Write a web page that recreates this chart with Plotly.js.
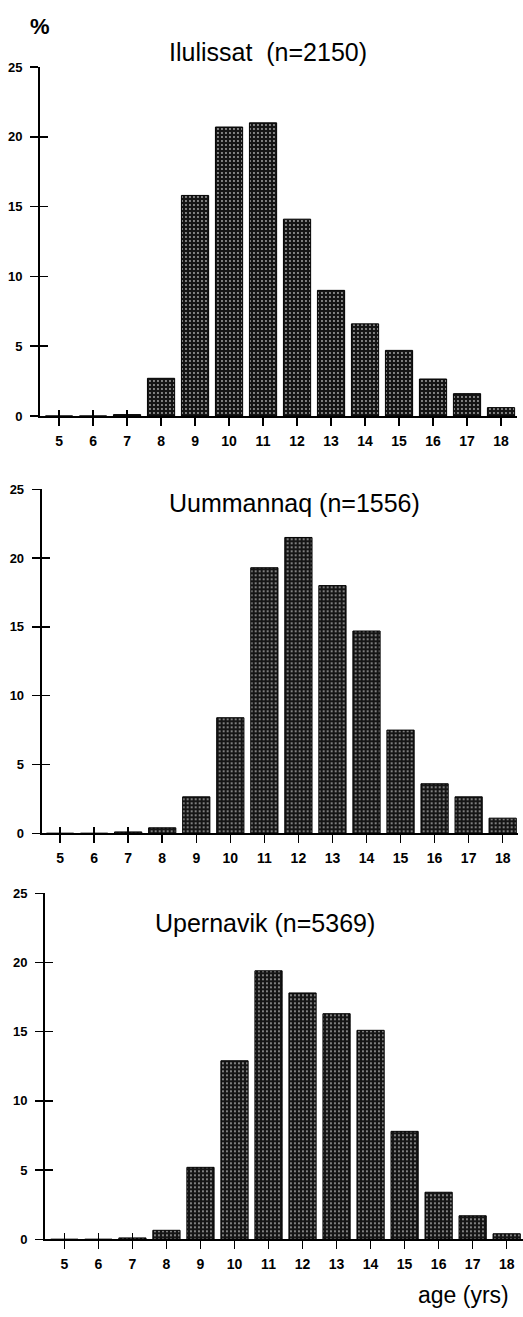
<!DOCTYPE html>
<html>
<head>
<meta charset="utf-8">
<script src="https://cdn.plot.ly/plotly-3.0.1.min.js"></script>
<style>
  html, body { margin: 0; padding: 0; background: #fff; }
  #chart { width: 523px; height: 1317px; }
</style>
</head>
<body>
<div id="chart"></div>
<script>
// ---- data ----
const ages = [5, 6, 7, 8, 9, 10, 11, 12, 13, 14, 15, 16, 17, 18];
const ilulissat = [0, 0, 0.1, 2.7, 15.8, 20.7, 21.0, 14.1, 9.0, 6.6, 4.7, 2.65, 1.6, 0.6];
const uummannaq = [0, 0, 0.1, 0.4, 2.65, 8.4, 19.3, 21.5, 18.0, 14.7, 7.5, 3.6, 2.65, 1.1];
const upernavik = [0, 0, 0.1, 0.65, 5.2, 12.9, 19.4, 17.8, 16.3, 15.1, 7.8, 3.4, 1.7, 0.4];
const panelTitles = ['Ilulissat\u00a0\u00a0(n=2150)', 'Uummannaq (n=1556)', 'Upernavik (n=5369)'];
const yTicks = [0, 5, 10, 15, 20, 25];
const crossTicks = [5, 6, 7];
const yUnit = '%';
const xLabel = 'age (yrs)';

const W = 523, H = 1317;
const FONT = 'Liberation Sans, Arial, Helvetica, sans-serif';

const series = [ilulissat, uummannaq, upernavik];
const axisSuffix = ['', '2', '3'];

const barStyle = {
  color: '#1a1a1a',
  line: { color: '#000', width: 1 },
  pattern: { shape: '.', bgcolor: '#151515', fgcolor: '#a8a8a8', size: 4, solidity: 0.18 }
};

const traces = series.map((vals, i) => ({
  type: 'bar',
  x: ages,
  y: vals,
  width: 0.8,
  xaxis: 'x' + axisSuffix[i],
  yaxis: 'y' + axisSuffix[i],
  marker: barStyle,
  hoverinfo: 'x+y',
  showlegend: false
}));
// empty traces hosting the inner halves of the crossing ticks
[0, 1, 2].forEach(i => {
  traces.push({ type: 'scatter', x: [], y: [], xaxis: 'x' + axisSuffix[i], yaxis: 'y' + (4 + i),
    showlegend: false, hoverinfo: 'skip' });
  traces.push({ type: 'scatter', x: [], y: [], xaxis: 'x' + (4 + i), yaxis: 'y' + axisSuffix[i],
    showlegend: false, hoverinfo: 'skip' });
});

// panel geometry (pixels)
const geo = [
  { xl: 40,   xr: 517, y0: 416,    y25: 67,    r: [4.44, 18.47] },
  { xl: 41.7, xr: 518, y0: 833.3,  y25: 489.3, r: [4.46, 18.45] },
  { xl: 45,   xr: 523, y0: 1239.3, y25: 893.3, r: [4.43, 18.48] }
];

const layout = {
  width: W, height: H,
  margin: { l: 0, r: 0, t: 0, b: 0, pad: 0 },
  paper_bgcolor: '#fff', plot_bgcolor: 'rgba(0,0,0,0)',
  font: { family: FONT, color: '#000' },
  bargap: 0.2,
  annotations: [],
  showlegend: false
};

geo.forEach((g, i) => {
  const s = axisSuffix[i];
  const xd = [g.xl / W, Math.min(1, g.xr / W)];
  const yd = [1 - g.y0 / H, 1 - g.y25 / H];
  layout['xaxis' + s] = {
    domain: xd, range: g.r, anchor: 'y' + s,
    tickmode: 'array', tickvals: ages, ticktext: ages.map(String),
    ticks: 'outside', ticklen: 8, tickwidth: 1.5, tickcolor: '#000',
    ticklabelstandoff: 3,
    showline: true, linecolor: '#000', linewidth: 2,
    showgrid: false, zeroline: false,
    tickfont: { family: FONT, size: 14, color: '#000', weight: 'bold' },
    fixedrange: true
  };
  layout['xaxis' + (4 + i)] = {
    domain: xd, range: g.r, overlaying: 'x' + s, anchor: 'y' + s,
    tickmode: 'array', tickvals: crossTicks,
    ticks: 'inside', ticklen: 6, tickwidth: 1.5, tickcolor: '#000',
    showticklabels: false, showline: false, showgrid: false, zeroline: false,
    fixedrange: true
  };
  layout['yaxis' + s] = {
    domain: yd, range: [0, 25], anchor: 'x' + s,
    tickmode: 'array', tickvals: yTicks, ticktext: yTicks.map(String),
    ticks: 'outside', ticklen: 8, tickwidth: 1.5, tickcolor: '#000',
    ticklabelstandoff: 5,
    showline: true, linecolor: '#000', linewidth: 2,
    showgrid: false, zeroline: false,
    tickfont: { family: FONT, size: 13, color: '#000', weight: 'bold' },
    fixedrange: true
  };
  layout['yaxis' + (4 + i)] = {
    domain: yd, range: [0, 25], overlaying: 'y' + s, anchor: 'x' + s,
    tickmode: 'array', tickvals: yTicks,
    ticks: 'inside', ticklen: 8, tickwidth: 1.5, tickcolor: '#000',
    showticklabels: false, showline: false, showgrid: false, zeroline: false,
    fixedrange: true
  };
});

const titlePos = [[268, 52], [294, 503], [265, 923]];
panelTitles.forEach((t, i) => layout.annotations.push({
  text: t, xref: 'paper', yref: 'paper',
  x: titlePos[i][0] / W, y: 1 - titlePos[i][1] / H,
  xanchor: 'center', yanchor: 'middle', showarrow: false,
  font: { family: FONT, size: 25, color: '#000' }
}));
layout.annotations.push({
  text: yUnit, xref: 'paper', yref: 'paper', x: 40 / W, y: 1 - 26 / H,
  xanchor: 'center', yanchor: 'middle', showarrow: false,
  font: { family: FONT, size: 22, color: '#000', weight: 'bold' }
});
layout.annotations.push({
  text: xLabel, xref: 'paper', yref: 'paper', x: 463 / W, y: 1 - 1295 / H,
  xanchor: 'center', yanchor: 'middle', showarrow: false,
  font: { family: FONT, size: 23, color: '#000' }
});

Plotly.newPlot('chart', traces, layout, { staticPlot: true, displayModeBar: false });
</script>
</body>
</html>
